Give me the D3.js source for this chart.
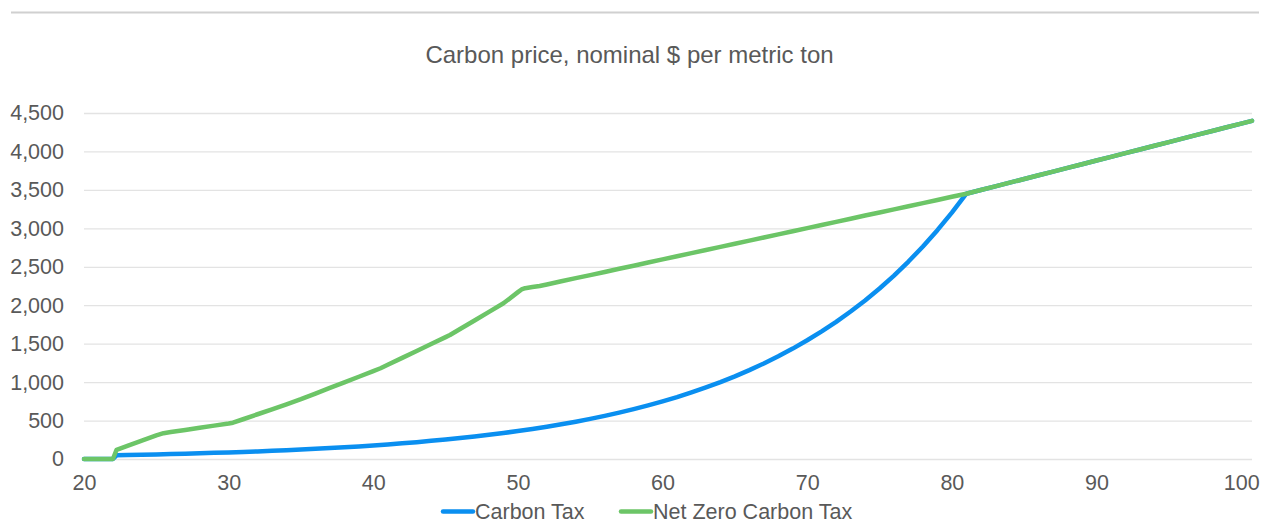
<!DOCTYPE html>
<html>
<head>
<meta charset="utf-8">
<script src="https://cdn.jsdelivr.net/npm/d3@7"></script>
<style>
  html, body { margin: 0; padding: 0; background: #ffffff; }
  svg { display: block; font-family: "Liberation Sans", Arial, sans-serif; }
</style>
</head>
<body>
<svg id="chart" width="1270" height="523"></svg>
<script>
// Carbon price, nominal $ per metric ton (x = year, 20 = 2020)
const chartTitle = "Carbon price, nominal $ per metric ton";
const seriesNames = ["Carbon Tax", "Net Zero Carbon Tax"];
const xTickValues = [20, 30, 40, 50, 60, 70, 80, 90, 100];
const yTickValues = [0, 500, 1000, 1500, 2000, 2500, 3000, 3500, 4000, 4500];

// Shared path after the two policies converge (year 81 onward)
const tailYears  = [82, 83, 84, 85, 86, 87, 88, 89, 90, 91, 92, 93, 94, 95, 96, 97, 98, 99, 100, 100.75];
const tailValues = [3498, 3546, 3594, 3642, 3690, 3738, 3786, 3834, 3882, 3930, 3978, 4026, 4074, 4122, 4170, 4218, 4266, 4314, 4362, 4398];

const carbonTaxYears = [20, 22, 22.25, 23, 24, 25, 26, 27, 28, 29, 30, 31, 32, 33, 34, 35, 36, 37, 38, 39, 40,
  41, 42, 43, 44, 45, 46, 47, 48, 49, 50, 51, 52, 53, 54, 55, 56, 57, 58, 59, 60,
  61, 62, 63, 64, 65, 66, 67, 68, 69, 70, 71, 72, 73, 74, 75, 76, 77, 78, 79, 80, 81];
const carbonTaxValues = [0, 0, 48, 52, 56, 60, 64, 69, 74, 80, 86, 92, 99, 106, 114, 123, 132, 142, 153, 164, 176,
  190, 204, 219, 236, 253, 272, 293, 315, 338, 364, 391, 420, 452, 485, 522, 561, 603, 648, 697, 749,
  805, 866, 931, 1000, 1075, 1156, 1243, 1336, 1436, 1544, 1660, 1784, 1918, 2062, 2217, 2385, 2568, 2764, 2976, 3204, 3450];

const netZeroYears = [20, 22, 22.25, 23, 24, 25, 25.5, 26, 27, 28, 29, 30, 30.3, 31, 32, 33, 34, 35, 36, 37, 38, 39, 40, 40.5,
  41, 42, 43, 44, 45, 45.3, 46, 47, 48, 49, 50, 50.25, 50.5, 51, 51.5, 52, 53, 54, 55, 56, 57, 58, 59, 60,
  61, 62, 63, 64, 65, 66, 67, 68, 69, 70, 71, 72, 73, 74, 75, 76, 77, 78, 79, 80, 81];
const netZeroValues = [0, 0, 120, 171, 239, 307, 336, 350, 378, 406, 434, 462, 472, 517, 582, 647, 712, 778, 851, 924, 997, 1070, 1143, 1180,
  1225, 1315, 1405, 1495, 1585, 1612, 1690, 1802, 1914, 2025, 2170, 2205, 2222, 2236, 2250, 2270, 2311, 2352, 2392, 2433, 2474, 2514, 2555, 2596,
  2636, 2677, 2718, 2759, 2799, 2840, 2881, 2921, 2962, 3003, 3043, 3084, 3125, 3166, 3206, 3247, 3288, 3328, 3369, 3410, 3450];

const seriesColors = ["#0a8ff0", "#6cc567"];

const svg = d3.select("#chart");
const textColor = "#595959";

const x = d3.scaleLinear().domain([20, 100.75]).range([84, 1252]);
const y = d3.scaleLinear().domain([0, 4500]).range([459, 113]);

// Top rule
svg.append("line")
  .attr("x1", 11).attr("x2", 1259).attr("y1", 12.5).attr("y2", 12.5)
  .attr("stroke", "#d0d0d0").attr("stroke-width", 2);

// Title
svg.append("text")
  .attr("x", 629.5).attr("y", 63)
  .attr("text-anchor", "middle")
  .attr("fill", textColor)
  .attr("font-size", 24)
  .text(chartTitle);

// Horizontal gridlines + y labels
const yAxis = d3.axisLeft(y)
  .tickValues(yTickValues)
  .tickSize(-(x.range()[1] - x.range()[0]))
  .tickPadding(20)
  .tickFormat(d3.format(","));
const gy = svg.append("g").attr("transform", `translate(${x.range()[0]},0)`).call(yAxis);
gy.select(".domain").remove();
gy.selectAll(".tick line").attr("stroke", "#e3e3e3").attr("stroke-width", 1.3);
gy.selectAll(".tick text")
  .attr("fill", textColor)
  .attr("font-size", 21.5)
  .attr("font-family", "Liberation Sans, Arial, sans-serif");

// X labels
const xAxis = d3.axisBottom(x).tickValues(xTickValues).tickSize(0).tickPadding(16);
const gx = svg.append("g").attr("transform", `translate(0,${y(0)})`).call(xAxis);
gx.select(".domain").remove();
gx.selectAll(".tick text")
  .attr("fill", textColor)
  .attr("font-size", 21.5)
  .attr("font-family", "Liberation Sans, Arial, sans-serif");

// Lines
const line = d3.line().x(d => x(d[0])).y(d => y(d[1]));
const carbonTaxData = carbonTaxYears.map((t, i) => [t, carbonTaxValues[i]])
  .concat(tailYears.map((t, i) => [t, tailValues[i]]));
const netZeroData = netZeroYears.map((t, i) => [t, netZeroValues[i]])
  .concat(tailYears.map((t, i) => [t, tailValues[i]]));

[carbonTaxData, netZeroData].forEach((data, i) => {
  svg.append("path")
    .datum(data)
    .attr("d", line)
    .attr("fill", "none")
    .attr("stroke", seriesColors[i])
    .attr("stroke-width", 4.5)
    .attr("stroke-linejoin", "round")
    .attr("stroke-linecap", "round");
});

// Legend
const legendX = [443, 621];
const legend = svg.append("g");
seriesNames.forEach((name, i) => {
  legend.append("line")
    .attr("x1", legendX[i]).attr("x2", legendX[i] + 30)
    .attr("y1", 511.5).attr("y2", 511.5)
    .attr("stroke", seriesColors[i]).attr("stroke-width", 4.5)
    .attr("stroke-linecap", "round");
  legend.append("text")
    .attr("x", legendX[i] + 32).attr("y", 518.5)
    .attr("fill", textColor)
    .attr("font-size", 21.5)
    .text(name);
});
</script>
</body>
</html>
